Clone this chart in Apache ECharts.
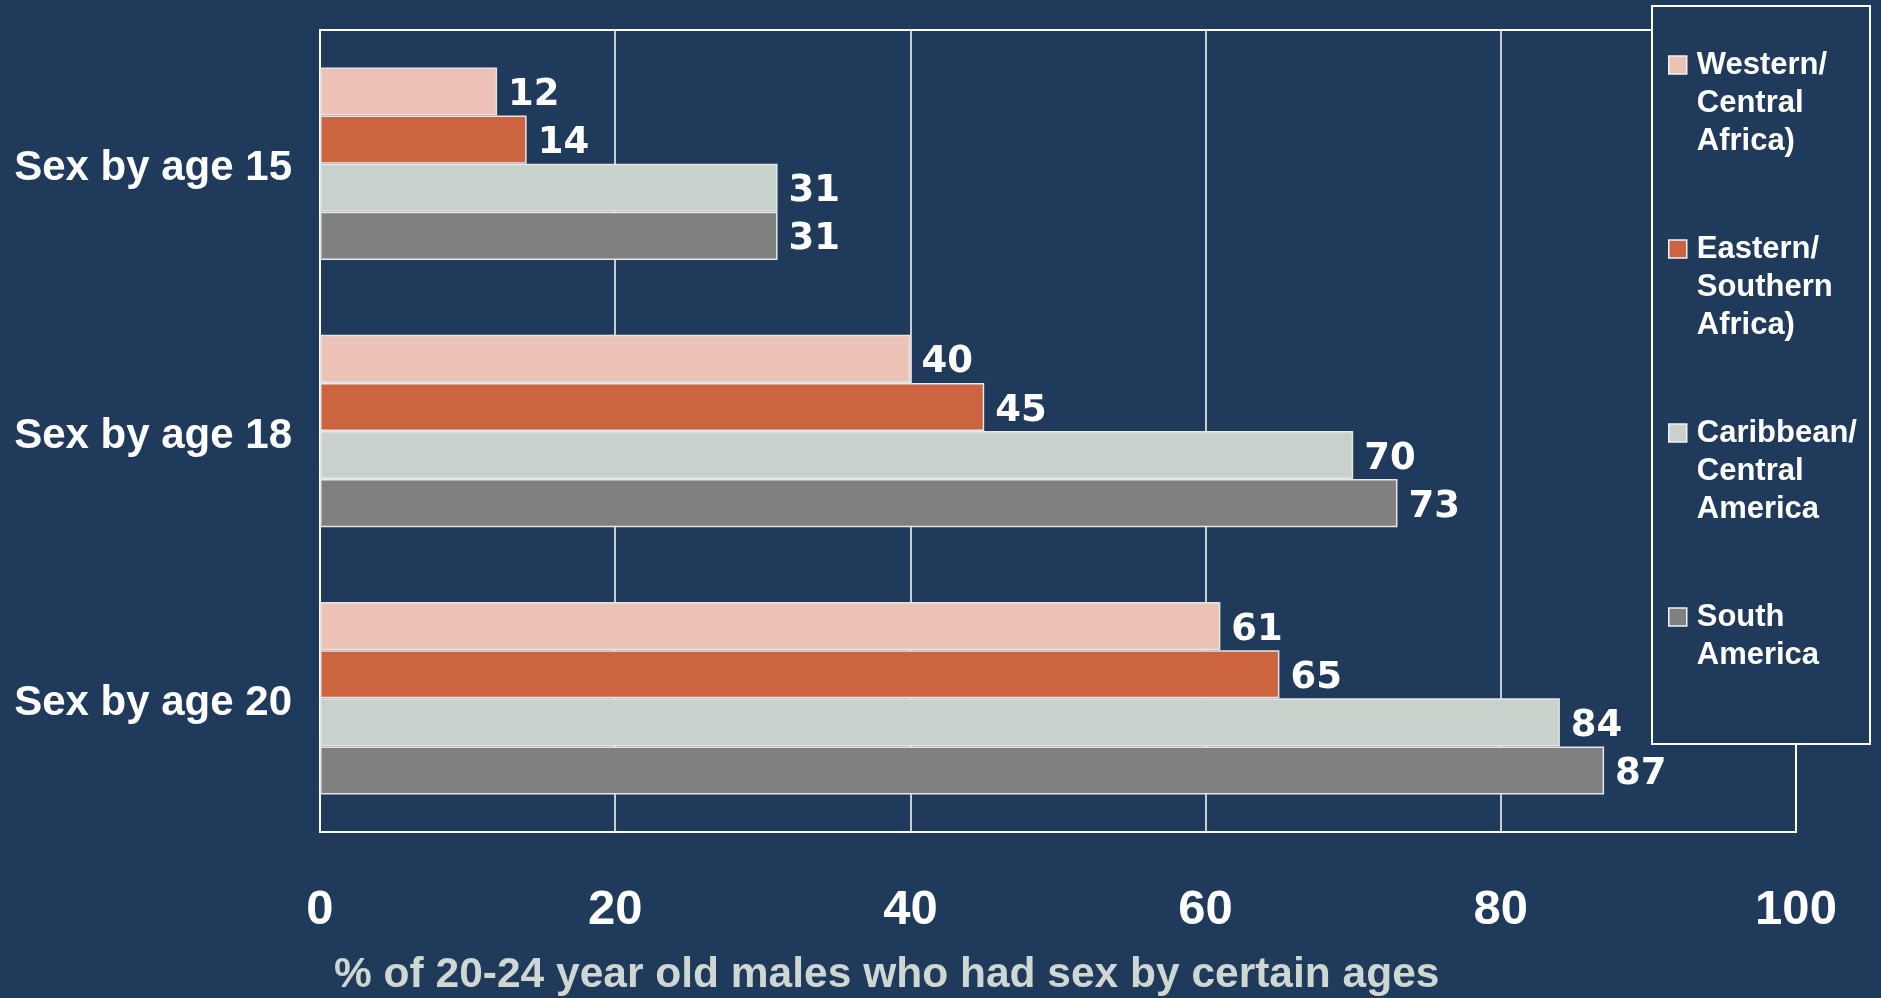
<!DOCTYPE html>
<html>
<head>
<meta charset="utf-8">
<script src="https://cdn.jsdelivr.net/npm/echarts@6/dist/echarts.min.js"></script>
<style>
  html, body { margin: 0; padding: 0; background: #1f3a5a; }
  #chart { width: 1881px; height: 998px; }
</style>
</head>
<body>
<div id="chart"></div>
<script>
// categories (top to bottom)
const categories = ['Sex by age 15', 'Sex by age 18', 'Sex by age 20']
// region series names and their legend lines
const regions = ['Western/ Central Africa)', 'Eastern/ Southern Africa)', 'Caribbean/ Central America', 'South America']
const legendLines = [
  ['Western/', 'Central', 'Africa)'],
  ['Eastern/', 'Southern', 'Africa)'],
  ['Caribbean/', 'Central', 'America'],
  ['South', 'America']
]
// values in % per category
const western = [12, 40, 61]
const eastern = [14, 45, 65]
const caribbean = [31, 70, 84]
const southAmerica = [31, 73, 87]
const xTicks = [0, 20, 40, 60, 80, 100]
const axisTitle = '% of 20-24 year old males who had sex by certain ages'

const colors = ['#ecc1b6', '#cc6442', '#c8d1cc', '#808080']
const values = [western, eastern, caribbean, southAmerica]

const chart = echarts.init(document.getElementById('chart'))

function createSeries() {
  const ret = []
  for (let i = 0; i < regions.length; i++) {
    ret.push({
      name: regions[i],
      type: 'bar',
      data: values[i],
      barGap: 0,
      barCategoryGap: '28%',
      itemStyle: {
        color: colors[i],
        borderColor: '#e6e6e6',
        borderWidth: 1.5
      },
      label: {
        show: true,
        position: 'right',
        distance: 11,
        offset: [0, 4],
        color: '#ffffff',
        fontFamily: 'DejaVu Sans',
        fontWeight: 'bold',
        fontSize: 37
      }
    })
  }
  return ret
}

// pad the legend text so the first line sits level with the icon
function legendText(name) {
  const lines = legendLines[regions.indexOf(name)]
  const out = ['', ''].concat(lines)
  while (out.length < 5) out.push('')
  return out.join('\n')
}

chart.setOption({
  backgroundColor: '#1f3a5a',
  animation: false,
  title: {
    text: axisTitle,
    left: 334,
    top: 954,
    padding: 0,
    textStyle: {
      color: '#cfd7d3',
      fontFamily: 'Liberation Sans',
      fontWeight: 'bold',
      fontSize: 42.5
    }
  },
  grid: {
    left: 320,
    right: 85,
    top: 30,
    bottom: 166,
    show: true,
    borderColor: '#ffffff',
    borderWidth: 2,
    outerBoundsMode: 'none'
  },
  graphic: [{
    type: 'rect',
    z: 50,
    shape: { x: 1652, y: 6, width: 218, height: 738 },
    style: { fill: '#1f3a5a', stroke: '#ffffff', lineWidth: 2 }
  }],
  legend: {
    orient: 'vertical',
    left: 1668,
    top: -30,
    padding: 0,
    z: 60,
    itemGap: -6,
    itemWidth: 18,
    itemHeight: 18,
    icon: 'rect',
    selectedMode: false,
    itemStyle: { borderColor: '#f2f2f2', borderWidth: 1.5 },
    data: regions,
    formatter: legendText,
    textStyle: {
      color: '#ffffff',
      fontFamily: 'Liberation Sans',
      fontWeight: 'bold',
      fontSize: 31,
      lineHeight: 38,
      padding: [0, 0, 0, 5]
    }
  },
  xAxis: {
    type: 'value',
    min: xTicks[0],
    max: xTicks[xTicks.length - 1],
    interval: 20,
    axisLine: { show: true, lineStyle: { color: '#ffffff', width: 2 } },
    axisTick: { show: false },
    splitLine: { show: true, lineStyle: { color: '#ffffff', width: 1.5 } },
    axisLabel: {
      margin: 54,
      color: '#ffffff',
      fontFamily: 'Liberation Sans',
      fontWeight: 'bold',
      fontSize: 49
    }
  },
  yAxis: {
    type: 'category',
    inverse: true,
    data: categories,
    axisLine: { show: true, lineStyle: { color: '#ffffff', width: 2 } },
    axisTick: { show: false },
    axisLabel: {
      margin: 28,
      formatter: function (v) { return '{c|' + v + '}' },
      rich: {
        c: {
          color: '#ffffff',
          fontFamily: 'Liberation Sans',
          fontWeight: 'bold',
          fontSize: 42,
          padding: [10, 0, 0, 0]
        }
      }
    }
  },
  series: createSeries()
})
</script>
</body>
</html>
